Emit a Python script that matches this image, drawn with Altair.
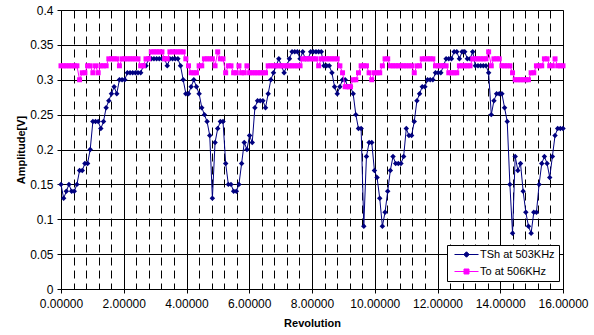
import altair as alt
import pandas as pd

# ---- data (amplitudes in V) ----
tsh = [
    0.15, 0.13, 0.14, 0.15, 0.14, 0.14, 0.15, 0.17, 0.17, 0.18,
    0.18, 0.20, 0.24, 0.24, 0.24, 0.23, 0.24, 0.26, 0.27, 0.28,
    0.29, 0.28, 0.30, 0.30, 0.30, 0.31, 0.31, 0.31, 0.31, 0.31,
    0.31, 0.32, 0.32, 0.33, 0.33, 0.33, 0.33, 0.33, 0.33, 0.33,
    0.32, 0.33, 0.33, 0.33, 0.33, 0.32, 0.30, 0.28, 0.28, 0.29,
    0.30, 0.29, 0.28, 0.26, 0.25, 0.24, 0.22, 0.13, 0.21, 0.23,
    0.24, 0.24, 0.18, 0.15, 0.15, 0.14, 0.14, 0.15, 0.18, 0.21,
    0.20, 0.22, 0.21, 0.26, 0.27, 0.27, 0.27, 0.26, 0.28, 0.30,
    0.31, 0.32, 0.33, 0.32, 0.31, 0.32, 0.33, 0.34, 0.34, 0.34,
    0.33, 0.34, 0.33, 0.33, 0.34, 0.34, 0.34, 0.34, 0.34, 0.32,
    0.32, 0.32, 0.31, 0.29, 0.28, 0.29, 0.30, 0.30, 0.29, 0.29,
    0.28, 0.25, 0.23, 0.23, 0.09, 0.19, 0.21, 0.21, 0.17, 0.16,
    0.13, 0.09, 0.11, 0.14, 0.17, 0.19, 0.18, 0.18, 0.18, 0.19,
    0.23, 0.22, 0.22, 0.24, 0.27, 0.28, 0.29, 0.29, 0.30, 0.30,
    0.30, 0.31, 0.31, 0.31, 0.32, 0.33, 0.33, 0.33, 0.34, 0.34,
    0.33, 0.34, 0.34, 0.33, 0.33, 0.34, 0.32, 0.32, 0.32, 0.32,
    0.32, 0.31, 0.25, 0.27, 0.28, 0.28, 0.28, 0.26, 0.24, 0.15,
    0.08, 0.19, 0.17, 0.18, 0.14, 0.11, 0.09, 0.08, 0.11, 0.11,
    0.15, 0.18, 0.19, 0.18, 0.16, 0.19, 0.22, 0.23, 0.23, 0.23,
]
to = [
    0.32, 0.32, 0.32, 0.32, 0.32, 0.32, 0.32, 0.30, 0.31, 0.31,
    0.32, 0.32, 0.31, 0.32, 0.31, 0.32, 0.32, 0.32, 0.33, 0.33,
    0.33, 0.33, 0.32, 0.33, 0.33, 0.33, 0.33, 0.33, 0.33, 0.33,
    0.32, 0.32, 0.33, 0.33, 0.34, 0.34, 0.34, 0.34, 0.34, 0.33,
    0.33, 0.34, 0.34, 0.34, 0.34, 0.34, 0.34, 0.33, 0.32, 0.31,
    0.31, 0.31, 0.32, 0.32, 0.33, 0.33, 0.33, 0.33, 0.32, 0.34,
    0.33, 0.33, 0.31, 0.32, 0.32, 0.31, 0.31, 0.32, 0.31, 0.31,
    0.32, 0.31, 0.31, 0.31, 0.31, 0.31, 0.31, 0.31, 0.32, 0.32,
    0.32, 0.32, 0.32, 0.32, 0.32, 0.32, 0.32, 0.32, 0.32, 0.32,
    0.32, 0.33, 0.33, 0.33, 0.33, 0.33, 0.33, 0.32, 0.33, 0.33,
    0.33, 0.33, 0.33, 0.33, 0.33, 0.32, 0.31, 0.29, 0.29, 0.29,
    0.30, 0.30, 0.31, 0.32, 0.32, 0.32, 0.31, 0.30, 0.31, 0.31,
    0.31, 0.32, 0.33, 0.33, 0.32, 0.32, 0.32, 0.32, 0.32, 0.32,
    0.32, 0.32, 0.32, 0.31, 0.32, 0.32, 0.33, 0.33, 0.33, 0.33,
    0.33, 0.32, 0.32, 0.32, 0.32, 0.32, 0.31, 0.31, 0.31, 0.31,
    0.32, 0.32, 0.32, 0.32, 0.32, 0.33, 0.33, 0.33, 0.33, 0.33,
    0.33, 0.34, 0.32, 0.33, 0.33, 0.33, 0.32, 0.32, 0.32, 0.32,
    0.31, 0.30, 0.30, 0.30, 0.30, 0.30, 0.30, 0.31, 0.31, 0.32,
    0.32, 0.32, 0.33, 0.33, 0.32, 0.32, 0.33, 0.32, 0.32, 0.32,
]
# samples are evenly spaced over 0..16 revolutions
rev_step = 16.0 / (len(tsh) - 1)
revolution = [round(i * rev_step, 5) for i in range(len(tsh))]

series_names = ["TSh at 503KHz", "To at 506KHz"]
series_colors = ["#000080", "#FF00FF"]
y_ticks = [0, 0.05, 0.1, 0.15, 0.2, 0.25, 0.3, 0.35, 0.4]
x_grid = [0, 0.4, 0.8, 1.2, 1.6, 2, 2.4, 2.8, 3.2, 3.6, 4, 4.4, 4.8, 5.2, 5.6, 6,
          6.4, 6.8, 7.2, 7.6, 8, 8.4, 8.8, 9.2, 9.6, 10, 10.4, 10.8, 11.2, 11.6, 12,
          12.4, 12.8, 13.2, 13.6, 14, 14.4, 14.8, 15.2, 15.6, 16]

df = pd.DataFrame({"rev": revolution, "tsh": tsh, "to": to})
legend_df = pd.DataFrame({"series": series_names})

FONT = "Liberation Sans"
MAJOR = "abs(datum.value % 2) < 0.001"

xs = alt.Scale(domain=[0, 16], nice=False, zero=False)
ys = alt.Scale(domain=[0, 0.4], nice=False)

x_axis = alt.Axis(
    title="Revolution", values=x_grid,
    labelExpr=f"{MAJOR} ? format(datum.value, '.5f') : ''",
    labelOverlap=False, labelAlign="center", labelFlush=False,
    labelFont=FONT, labelFontSize=12, labelColor="black", labelPadding=5,
    grid=True, gridColor="black", gridWidth=1, gridOpacity=1,
    gridDash={"condition": {"test": MAJOR, "value": []}, "value": [8, 5]},
    ticks=True, tickSize=4, tickColor="black",
    tickOpacity={"condition": {"test": MAJOR, "value": 1}, "value": 0},
    domain=True, domainColor="black",
    titleFont=FONT, titleFontSize=11, titleFontWeight="bold", titleColor="black", titlePadding=8,
)
y_axis = alt.Axis(
    title="Amplitude[V]", values=y_ticks, format="~f",
    labelFont=FONT, labelFontSize=12, labelColor="black", labelPadding=4,
    grid=True, gridColor="black", gridWidth=1, gridOpacity=1,
    tickSize=4, tickColor="black", domainColor="black",
    titleFont=FONT, titleFontSize=11, titleFontWeight="bold", titleColor="black", titlePadding=3,
)

base = alt.Chart(df)
blue_line = base.mark_line(color=series_colors[0], strokeWidth=1).encode(
    x=alt.X("rev:Q", scale=xs, axis=x_axis), y=alt.Y("tsh:Q", scale=ys, axis=y_axis))
blue_pts = base.mark_point(shape="diamond", filled=True, size=30, color=series_colors[0], opacity=1).encode(
    x=alt.X("rev:Q", scale=xs, axis=x_axis), y=alt.Y("tsh:Q", scale=ys, axis=y_axis))
pink_line = base.mark_line(color=series_colors[1], strokeWidth=1).encode(
    x=alt.X("rev:Q", scale=xs, axis=x_axis), y=alt.Y("to:Q", scale=ys, axis=y_axis))
pink_pts = base.mark_point(shape="square", filled=True, size=25, color=series_colors[1], opacity=1).encode(
    x=alt.X("rev:Q", scale=xs, axis=x_axis), y=alt.Y("to:Q", scale=ys, axis=y_axis))

diamond_leg = "M-2.4,0H2.4M0,-0.55L0.55,0L0,0.55L-0.55,0Z"
square_leg = "M-2.4,0H2.4M-0.5,-0.5H0.5V0.5H-0.5Z"
legend = alt.Legend(
    title=None, orient="none", legendX=386, legendY=235,
    fillColor="white", strokeColor="black", padding=4, cornerRadius=0,
    labelFont=FONT, labelFontSize=11, labelColor="black",
    symbolSize=100, symbolStrokeWidth=1, symbolOffset=10, labelOffset=8, rowPadding=5,
)
legend_layer = alt.Chart(legend_df).transform_filter("false").mark_point(
    filled=True, size=100, opacity=1).encode(
    fill=alt.Fill("series:N", scale=alt.Scale(domain=series_names, range=series_colors), legend=legend),
    stroke=alt.Stroke("series:N", scale=alt.Scale(domain=series_names, range=series_colors), legend=legend),
    shape=alt.Shape("series:N", scale=alt.Scale(domain=series_names, range=[diamond_leg, square_leg]), legend=legend),
)

chart = alt.layer(blue_line, blue_pts, pink_line, pink_pts, legend_layer).properties(
    width=502, height=279,
    padding={"left": 61, "top": 10, "right": 31, "bottom": 46},
    autosize=alt.AutoSizeParams(type="none"),
    background="white",
).configure_view(stroke="#808080", strokeWidth=1)

chart.save("out.html", embed_options={"renderer": "svg", "actions": False})
